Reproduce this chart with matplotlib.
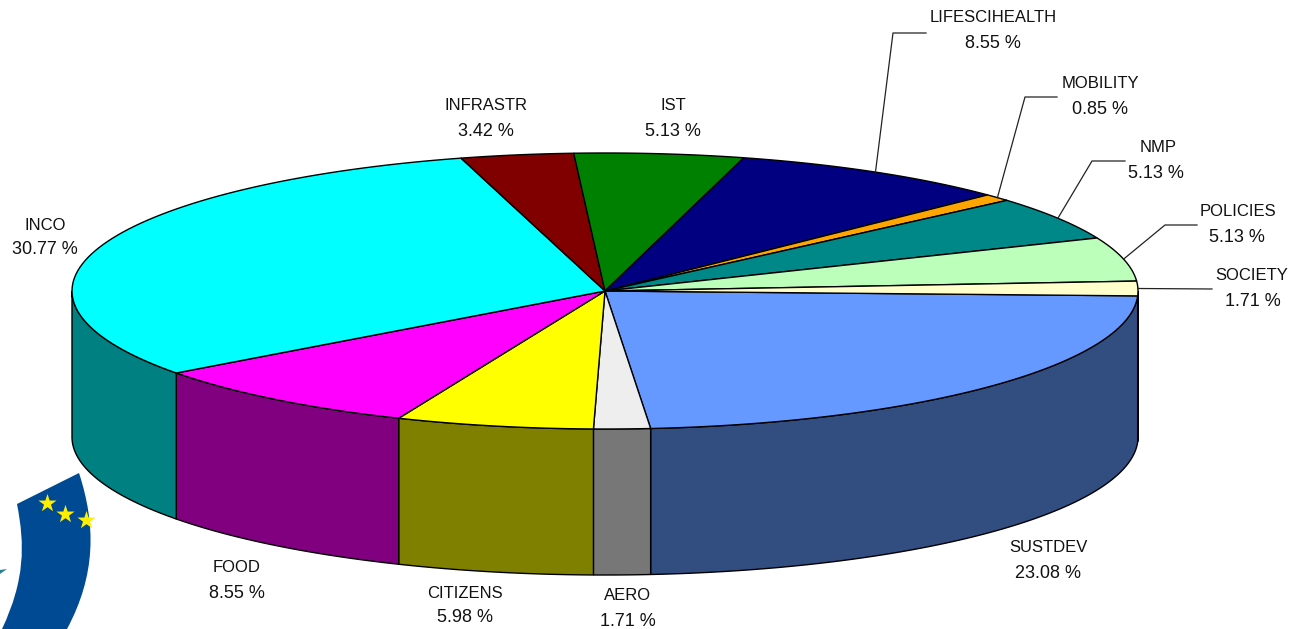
import numpy as np
import matplotlib
matplotlib.use('Agg')
import matplotlib.pyplot as plt
from matplotlib.patches import Polygon, PathPatch
from matplotlib.path import Path

plt.rcParams['font.family'] = ['Liberation Sans', 'DejaVu Sans']

# Slices, clockwise from the right hand side
names = ['SUSTDEV', 'AERO', 'CITIZENS', 'FOOD', 'INCO', 'INFRASTR', 'IST',
         'LIFESCIHEALTH', 'MOBILITY', 'NMP', 'POLICIES', 'SOCIETY']
values = [23.08, 1.71, 5.98, 8.55, 30.77, 3.42, 5.13, 8.55, 0.85, 5.13, 5.13, 1.71]
top_colors = ['#6699FF', '#EEEEEE', '#FFFF00', '#FF00FF', '#00FFFF', '#800000',
              '#008000', '#000080', '#FFA500', '#008888', '#BBFFBB', '#FFFFCC']
side_colors = ['#324D80', '#777777', '#808000', '#800080', '#008080', '#400000',
               '#004000', '#000040', '#805000', '#004444', '#5E805E', '#808066']

# Label centres: name x, name y, value x, value y
label_pos = [(1048, 548, 1048, 574), (628, 595, 628, 621), (465, 593, 465, 618),
             (237, 567, 237, 593), (45, 225, 45, 250), (486, 106, 486, 132),
             (673, 105, 673, 131), (993, 18, 993, 44), (1100, 83, 1100, 109),
             (1158, 147, 1156, 173), (1238, 211, 1237, 237), (1252, 275, 1253, 301)]

# Leader line elbows per slice name
leaders = {'LIFESCIHEALTH': [(893, 33), (926, 33)],
           'MOBILITY': [(1025, 97), (1057, 97)],
           'NMP': [(1092, 161), (1125, 161)],
           'POLICIES': [(1165, 225), (1197, 225)],
           'SOCIETY': [(1212, 289)]}

CX, CY = 605, 291
RX, RY = 533, 138
DEPTH = 146
START = 2.0


def rim(t0, t1, n=80):
    """Points on the top ellipse between two angles in degrees."""
    t = np.radians(np.linspace(t0, t1, n))
    return np.column_stack([CX + RX * np.cos(t), CY + RY * np.sin(t)])


fig = plt.figure(figsize=(12.89, 6.29), dpi=100)
ax = fig.add_axes([0, 0, 1, 1])
ax.set_xlim(0, 1289)
ax.set_ylim(629, 0)
ax.axis('off')

# Logo fragment behind the pie
logo = Path([(17, 504), (79, 473), (96, 525), (96, 575), (67, 629), (2, 629),
             (25, 580), (25, 545), (17, 504)],
            [Path.MOVETO, Path.LINETO, Path.CURVE4, Path.CURVE4, Path.CURVE4,
             Path.LINETO, Path.CURVE4, Path.CURVE4, Path.CURVE4])
ax.add_patch(PathPatch(logo, fc='#004A94', ec='none', zorder=1))
ax.add_patch(Polygon([(0, 574), (7, 569), (0, 570)], fc='#2A7F8F', ec='none', zorder=1))
ax.scatter([47, 65, 86], [503, 514, 520], marker='*', s=190, c='#FFEE00', zorder=2,
           linewidths=0)

edges = START + np.concatenate([[0], np.cumsum(values)]) * 3.6

# Side wall, only the front half of the rim shows
for i in range(len(values)):
    t0, t1 = max(edges[i], 0), min(edges[i + 1], 180)
    if t1 <= t0:
        continue
    p = rim(t0, t1)
    wall = np.vstack([p, (p + [0, DEPTH])[::-1]])
    ax.add_patch(Polygon(wall, fc=side_colors[i], ec='black', lw=1.0, zorder=3))
right = rim(0, START, 4)
ax.add_patch(Polygon(np.vstack([right, (right + [0, DEPTH])[::-1]]),
                     fc=side_colors[0], ec='black', lw=1.0, zorder=3))

# Top face
for i in range(len(values)):
    p = np.vstack([[CX, CY], rim(edges[i], edges[i + 1])])
    ax.add_patch(Polygon(p, fc=top_colors[i], ec='black', lw=1.0, zorder=4))

# Labels and leaders
for i, name in enumerate(names):
    nx, ny, vx, vy = label_pos[i]
    ax.text(nx, ny, name, fontsize=12, ha='center', va='center', color='#111111', zorder=6)
    ax.text(vx, vy, f'{values[i]:.2f} %', fontsize=13, ha='center', va='center',
            color='#111111', zorder=6)
    if name in leaders:
        mid = (edges[i] + edges[i + 1]) / 2
        pts = np.vstack([rim(mid, mid, 1), leaders[name]])
        ax.plot(pts[:, 0], pts[:, 1], color='#222222', lw=0.9, zorder=5)

fig.savefig('out.png', dpi=100, facecolor='white')
